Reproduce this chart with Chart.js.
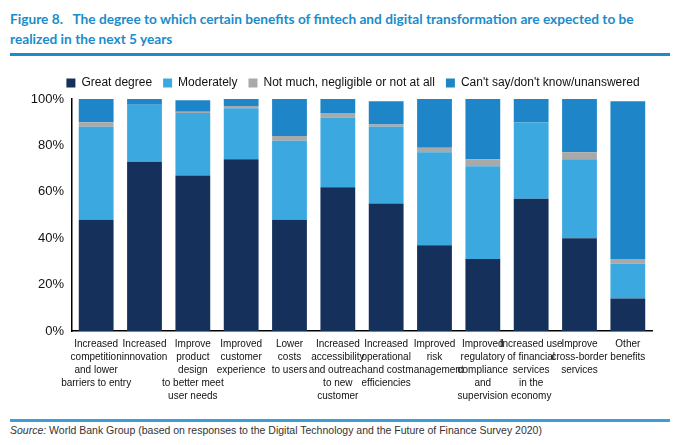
<!DOCTYPE html>
<html>
<head>
<meta charset="utf-8">
<script src="https://cdn.jsdelivr.net/npm/chart.js@4"></script>
<style>
  body { margin: 0; background: #fff; width: 680px; height: 445px; position: relative; overflow: hidden; }
  .title { position: absolute; left: 10px; top: 9px; width: 670px; white-space: nowrap; font-family: Lato, "Open Sans", sans-serif; font-weight: bold; font-size: 13.7px; line-height: 20px; color: #1b8ccb; }
  .rule { position: absolute; left: 10px; width: 660px; height: 3px; background: #1b8ccb; }
  .source { position: absolute; left: 10px; top: 424px; font-family: "Liberation Sans", Arial, sans-serif; font-size: 10.5px; color: #333; }
  #wrap { position: absolute; left: 0; top: 60px; width: 680px; height: 358px; }
</style>
</head>
<body>
<div class="title">Figure 8.&nbsp;&nbsp; The degree to which certain benefits of fintech and digital transformation are expected to be<br>realized in the next 5 years</div>
<div class="rule" style="top:53px"></div>
<div id="wrap"><canvas id="chart"></canvas></div>
<div class="rule" style="top:419px; background:#3d9fd9"></div>
<div class="source"><i>Source:</i> World Bank Group (based on responses to the Digital Technology and the Future of Finance Survey 2020)</div>
<script>
// Categories (multi-line labels)
const categories = [
    ['Increased', 'competition', 'and lower', 'barriers to entry'],
    ['Increased', 'innovation'],
    ['Improve', 'product', 'design', 'to better meet', 'user needs'],
    ['Improved', 'customer', 'experience'],
    ['Lower', 'costs', 'to users'],
    ['Increased', 'accessibility', 'and outreach', 'to new', 'customer'],
    ['Increased', 'operational', 'and cost', 'efficiencies'],
    ['Improved', 'risk', 'management'],
    ['Improved', 'regulatory', 'compliance', 'and', 'supervision'],
    ['Increased use', 'of financial', 'services', 'in the', 'economy'],
    ['Improve', 'cross-border', 'services'],
    ['Other', 'benefits']
];

// Series values (%)
const greatDegree = [48, 73, 67, 74, 48, 62, 55, 37, 31, 57, 40, 14];
const moderately  = [40, 24.5, 27, 22, 34, 30, 33, 40, 40, 33, 34, 15];
const notMuch     = [2, 0, 0.5, 1, 2, 2, 1, 2, 3, 0, 3, 2];
const cantSay     = [10, 2.5, 5, 3, 16, 6, 10, 21, 26, 10, 23, 68];

const yTicks = [0, 20, 40, 60, 80, 100];

// nudge the legend right so it sits over the plot like the original
const legendShift = {
    id: 'legendShift',
    afterLayout(chart) {
        chart.legend.left += 54;
    }
};

const ctx = document.getElementById('chart').getContext('2d');
new Chart(ctx, {
    type: 'bar',
    data: {
        labels: categories,
        datasets: [
            { label: 'Great degree', data: greatDegree, backgroundColor: '#15305a' },
            { label: 'Moderately', data: moderately, backgroundColor: '#3ba9e0' },
            { label: 'Not much, negligible or not at all', data: notMuch, backgroundColor: '#a9a9a9' },
            { label: "Can't say/don't know/unanswered", data: cantSay, backgroundColor: '#1e86c8' }
        ]
    },
    plugins: [legendShift],
    options: {
        responsive: true,
        maintainAspectRatio: false,
        animation: false,
        categoryPercentage: 0.72,
        barPercentage: 1,
        layout: { padding: { top: 6, right: 28, bottom: 8 } },
        plugins: {
            legend: {
                position: 'top',
                labels: {
                    boxWidth: 9,
                    boxHeight: 9,
                    padding: 11,
                    color: '#111',
                    font: { family: '"Liberation Sans", Arial, sans-serif', size: 12 }
                }
            },
            tooltip: { enabled: false }
        },
        scales: {
            x: {
                stacked: true,
                grid: { display: false, drawTicks: false },
                border: { color: '#000', width: 1.5 },
                ticks: {
                    maxRotation: 0,
                    autoSkip: false,
                    padding: 7,
                    color: '#111',
                    font: { family: '"Liberation Sans", Arial, sans-serif', size: 10, lineHeight: 1.3 }
                }
            },
            y: {
                stacked: true,
                min: 0,
                max: 100,
                afterFit: (scale) => { scale.width = 72; },
                afterBuildTicks: (scale) => { scale.ticks = yTicks.map(v => ({ value: v })); },
                grid: { display: false, drawTicks: false },
                border: { color: '#000', width: 1.5 },
                ticks: {
                    padding: 8,
                    color: '#111',
                    font: { family: '"Liberation Sans", Arial, sans-serif', size: 13 },
                    callback: (v) => v + '%'
                }
            }
        }
    }
});
</script>
</body>
</html>
